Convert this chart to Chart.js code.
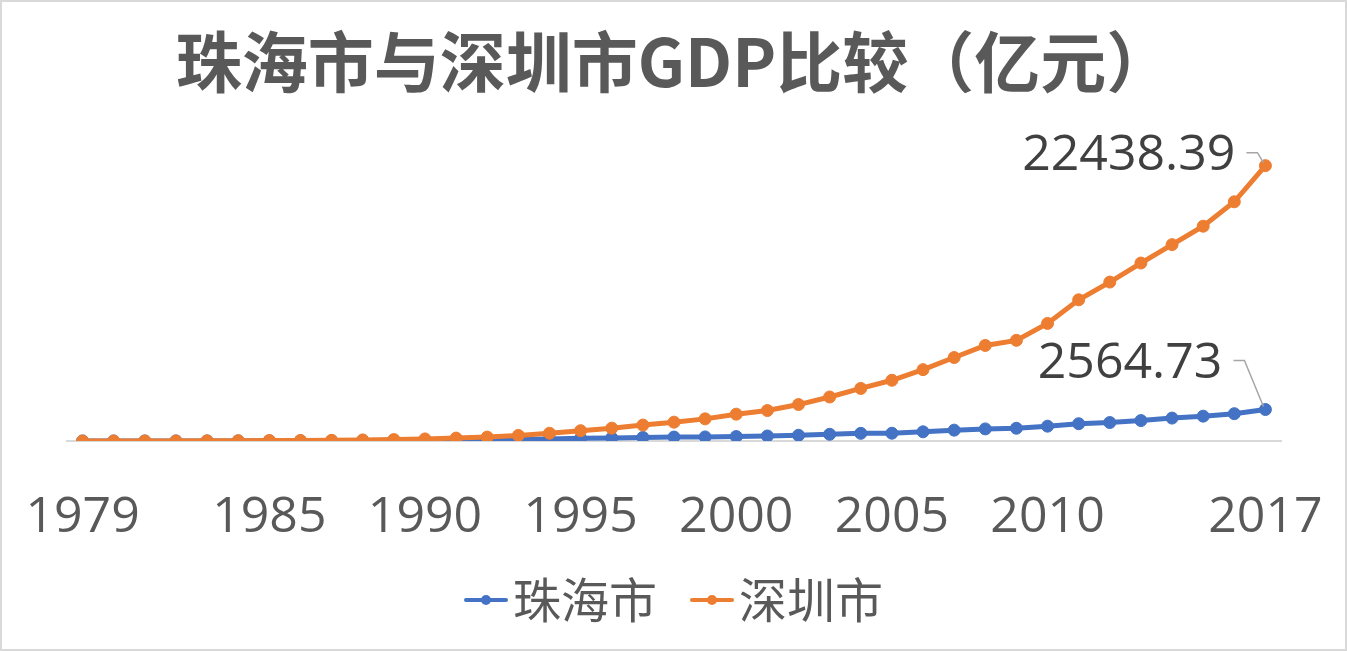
<!DOCTYPE html>
<html>
<head>
<meta charset="utf-8">
<script src="https://cdn.jsdelivr.net/npm/chart.js@4"></script>
<style>
  html, body { margin: 0; padding: 0; background: #fff; }
  #wrap { position: relative; width: 1347px; height: 651px; }
  #frame { position: absolute; left: 0; top: 0; width: 1347px; height: 651px; box-sizing: border-box; border: 2px solid #d9d9d9; pointer-events: none; }
</style>
</head>
<body>
<div id="wrap">
  <canvas id="gdpChart" width="1347" height="651"></canvas>
  <div id="frame"></div>
</div>
<script>
'use strict';

// years 1979..2017
var years = ['1979','1980','1981','1982','1983','1984','1985','1986','1987','1988',
             '1989','1990','1991','1992','1993','1994','1995','1996','1997','1998',
             '1999','2000','2001','2002','2003','2004','2005','2006','2007','2008',
             '2009','2010','2011','2012','2013','2014','2015','2016','2017'];

// only these categories get a printed label
var tickLabels = ['1979','1985','1990','1995','2000','2005','2010','2017'];

// 珠海市 GDP (亿元)
var zhuhai = [2.09, 2.61, 3.43, 4.31, 5.29, 9.05, 14.61, 16.89, 20.26, 28.75,
              34.76, 41.43, 59.57, 95.27, 132.04, 171.67, 214.71, 251.47, 288.59, 322.02,
              332.36, 362.87, 409.46, 465.17, 545.76, 623.86, 635.45, 749.74, 885.22, 985.33,
              1037.74, 1208.60, 1410.34, 1503.76, 1662.38, 1867.21, 2024.98, 2226.37, 2564.73];

// 深圳市 GDP (亿元)
var shenzhen = [1.96, 2.70, 4.96, 8.26, 13.12, 23.42, 39.02, 41.65, 55.90, 86.98,
                115.66, 171.67, 236.66, 317.32, 453.14, 634.67, 842.48, 1048.44, 1297.42, 1534.73,
                1804.02, 2187.45, 2482.49, 2969.52, 3585.72, 4282.14, 4950.91, 5813.56, 6801.57, 7786.79,
                8201.32, 9581.51, 11505.53, 12950.06, 14500.23, 16001.82, 17502.86, 19492.60, 22438.39];

var BLUE = '#4472C4', ORANGE = '#ED7D31';
var NUM_FONT = '"Open Sans", "Liberation Sans", sans-serif';
var CJK_FONT = '"Noto Sans CJK SC", "Noto Sans", sans-serif';
var LEG_SIZE = 48, LEG_BOX = 24;

// legend marker: short line with a dot, drawn into a small canvas.
// The image is centred on the legend box, so shift the line towards the text.
function lineMarker(color) {
    var relEnd = LEG_BOX / 2 + LEG_SIZE / 2 - 5;
    var relStart = relEnd - 44;
    var half = Math.max(Math.abs(relStart), Math.abs(relEnd)) + 3;
    var c = document.createElement('canvas');
    c.width = half * 2; c.height = 16;
    var g = c.getContext('2d');
    g.strokeStyle = color; g.lineWidth = 4; g.lineCap = 'round';
    g.beginPath(); g.moveTo(half + relStart + 2, 8); g.lineTo(half + relEnd - 2, 8); g.stroke();
    g.fillStyle = color;
    g.beginPath(); g.arc(half + (relStart + relEnd) / 2, 8, 5, 0, Math.PI * 2); g.fill();
    return c;
}
var markers = [lineMarker(BLUE), lineMarker(ORANGE)];

// value label on the last point with a small leader line
var lastLabel = {
    id: 'lastLabel',
    afterDatasetsDraw: function(chart, args, opts) {
        var ctx = chart.ctx;
        chart.data.datasets.forEach(function(ds, i) {
            var meta = chart.getDatasetMeta(i);
            var n = ds.data.length - 1;
            var pt = meta.data[n];
            var o = opts.offsets[i];
            var tx = pt.x + o.dx, ty = pt.y + o.dy;
            ctx.save();
            ctx.font = '50px ' + NUM_FONT;
            ctx.fillStyle = '#404040';
            ctx.textAlign = 'right';
            ctx.textBaseline = 'middle';
            ctx.fillText(ds.data[n].toFixed(2), tx, ty);
            ctx.strokeStyle = '#a6a6a6';
            ctx.lineWidth = 1.5;
            ctx.beginPath();
            ctx.moveTo(tx + 11, ty - 3);
            ctx.lineTo(tx + 22, ty - 3);
            ctx.lineTo(pt.x - 2, pt.y - 3);
            ctx.stroke();
            ctx.restore();
        });
    }
};

new Chart(document.getElementById('gdpChart'), {
    type: 'line',
    data: {
        labels: years,
        datasets: [
            { label: '珠海市', data: zhuhai, borderColor: BLUE, backgroundColor: BLUE,
              borderWidth: 5, pointRadius: 6, pointBorderWidth: 1, pointBackgroundColor: BLUE, order: 1 },
            { label: '深圳市', data: shenzhen, borderColor: ORANGE, backgroundColor: ORANGE,
              borderWidth: 5, pointRadius: 6, pointBorderWidth: 1, pointBackgroundColor: ORANGE, order: 0 }
        ]
    },
    options: {
        responsive: false,
        animation: false,
        devicePixelRatio: 1,
        layout: { padding: { left: 67, right: 66, top: 0, bottom: 17 } },
        plugins: {
            title: {
                display: true,
                text: '珠海市与深圳市GDP比较（亿元）',
                color: '#595959',
                font: { family: CJK_FONT, size: 66, weight: 'bold', lineHeight: 1.2 },
                padding: { top: 22, bottom: 33 }
            },
            legend: {
                position: 'bottom',
                labels: {
                    color: '#595959',
                    font: { family: CJK_FONT, size: LEG_SIZE },
                    usePointStyle: true,
                    pointStyleWidth: LEG_BOX,
                    padding: 34,
                    sort: function(a, b) { return a.datasetIndex - b.datasetIndex; },
                    generateLabels: function(chart) {
                        var items = Chart.defaults.plugins.legend.labels.generateLabels(chart);
                        items.forEach(function(it) { it.pointStyle = markers[it.datasetIndex]; });
                        return items;
                    }
                }
            },
            tooltip: { enabled: false },
            lastLabel: { offsets: [ { dx: -43, dy: -46 }, { dx: -30, dy: -10 } ] }
        },
        scales: {
            x: {
                offset: true,
                grid: { display: false, drawTicks: false },
                border: { display: true, color: '#d9d9d9', width: 2 },
                // no extra side padding for edge labels, and a fixed axis band height
                afterFit: function(s) { s.paddingLeft = 0; s.paddingRight = 0; s.height = 101; },
                ticks: {
                    autoSkip: false, maxRotation: 0, padding: 47,
                    color: '#595959',
                    font: { family: NUM_FONT, size: 50, lineHeight: 1.2 },
                    callback: function(v, i) {
                        var lab = this.getLabelForValue(v);
                        return tickLabels.indexOf(lab) !== -1 ? lab : '';
                    }
                }
            },
            y: { display: false, min: 0, max: 25000 }
        }
    },
    plugins: [lastLabel]
});
</script>
</body>
</html>
